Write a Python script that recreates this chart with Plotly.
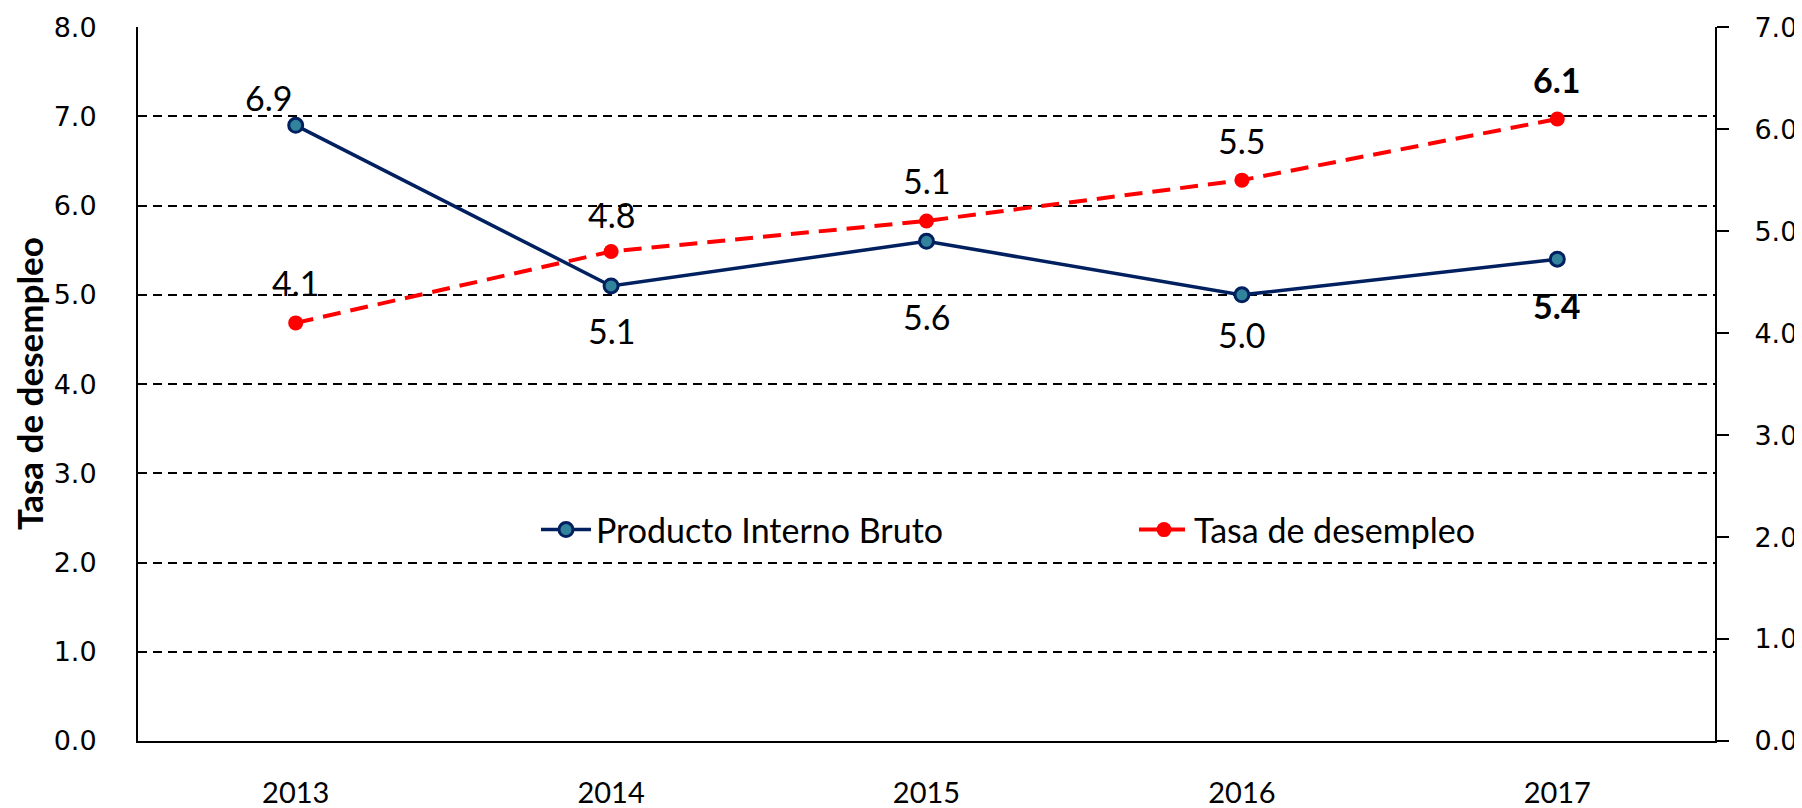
import plotly.graph_objects as go

years = ["2013", "2014", "2015", "2016", "2017"]
pib = [6.9, 5.1, 5.6, 5.0, 5.4]
desempleo = [4.1, 4.8, 5.1, 5.5, 6.1]
pib_labels = ["6.9", "5.1", "5.6", "5.0", "<b>5.4</b>"]
desempleo_labels = ["4.1", "4.8", "5.1", "5.5", "<b>6.1</b>"]
left_ticks = [0, 1, 2, 3, 4, 5, 6, 7, 8]
right_ticks = [0, 1, 2, 3, 4, 5, 6, 7]

# label offsets (styling, px)
pib_shift = [(-27, 28), (0, -45), (0, -75), (0, -40), (0, -46)]
des_shift = [(0, 40), (0, 37), (0, 40), (0, 40), (0, 39)]

NAVY = "#002060"
TEAL = "#31849B"
RED = "#FF0000"
LBL_FONT = "Lato"

# page offset compensation (browser body margin)
OFF = 8
W, H = 1802 - OFF, 808 - OFF
ML, MR, MT, MB = 138 - OFF, 87, 27 - OFF, 67
PW = 1802 - 138 - 87
PH = 741 - 27

fig = go.Figure()
fig.add_trace(go.Scatter(
    x=years, y=pib, name="Producto Interno Bruto", mode="lines+markers",
    line=dict(color=NAVY, width=3.5),
    marker=dict(symbol="circle", size=14, color=TEAL, line=dict(color=NAVY, width=3)),
    yaxis="y", legend="legend",
))
fig.add_trace(go.Scatter(
    x=years, y=desempleo, name="Tasa de desempleo", mode="lines+markers",
    line=dict(color=RED, width=4, dash="18px,10px"),
    marker=dict(symbol="circle", size=15, color=RED),
    yaxis="y2", legend="legend2",
))

annotations = []
for i, (yv, t, (dx, dy)) in enumerate(zip(pib, pib_labels, pib_shift)):
    annotations.append(dict(x=i, y=yv, xref="x", yref="y", text=t, showarrow=False,
                            xshift=dx, yshift=dy,
                            font=dict(family=LBL_FONT, size=34, color="black")))
for i, (yv, t, (dx, dy)) in enumerate(zip(desempleo, desempleo_labels, des_shift)):
    annotations.append(dict(x=i, y=yv, xref="x", yref="y2", text=t, showarrow=False,
                            xshift=dx, yshift=dy,
                            font=dict(family=LBL_FONT, size=34, color="black")))
annotations.append(dict(x=(29 - 138) / PW, y=0.5, xref="paper", yref="paper",
                        text="<b>Tasa de desempleo</b>",
                        textangle=-90, showarrow=False, xanchor="center", yanchor="middle",
                        font=dict(family=LBL_FONT, size=35, color="black")))

fig.update_layout(
    width=W, height=H,
    margin=dict(l=ML, r=MR, t=MT, b=MB, autoexpand=False),
    paper_bgcolor="white", plot_bgcolor="white",
    showlegend=True,
    annotations=annotations,
    xaxis=dict(
        type="category", range=[-0.5, 4.5],
        showline=True, linecolor="black", linewidth=2,
        showgrid=False, ticks="", ticklabelstandoff=25,
        tickfont=dict(family=LBL_FONT, size=29, color="black"),
        zeroline=False, fixedrange=True,
    ),
    yaxis=dict(
        range=[0, 8.002], tickvals=left_ticks, tickformat=".1f",
        showline=True, linecolor="black", linewidth=2,
        showgrid=True, gridcolor="black", gridwidth=1.6, griddash="9px,6px",
        ticks="", ticklabelstandoff=34,
        tickfont=dict(family="DejaVu Sans", size=27, color="black"),
        zeroline=False,
    ),
    yaxis2=dict(
        range=[0, 7.00175], tickvals=right_ticks, tickformat=".1f",
        overlaying="y", side="right",
        showline=True, linecolor="black", linewidth=2,
        showgrid=False, ticks="outside", ticklen=12, tickwidth=2, tickcolor="black",
        ticklabelstandoff=20,
        tickfont=dict(family="DejaVu Sans", size=27, color="black"),
        zeroline=False,
    ),
    legend=dict(
        x=(541 - 138 - 5) / PW, y=(741 - 530) / PH, xanchor="left", yanchor="middle",
        orientation="h", bgcolor="rgba(0,0,0,0)", itemwidth=50,
        font=dict(family=LBL_FONT, size=34, color="black"),
    ),
    legend2=dict(
        x=(1139 - 138 - 5) / PW, y=(741 - 530) / PH, xanchor="left", yanchor="middle",
        orientation="h", bgcolor="rgba(0,0,0,0)", itemwidth=50,
        font=dict(family=LBL_FONT, size=34, color="black"),
    ),
)

fig.write_html("out.html")
